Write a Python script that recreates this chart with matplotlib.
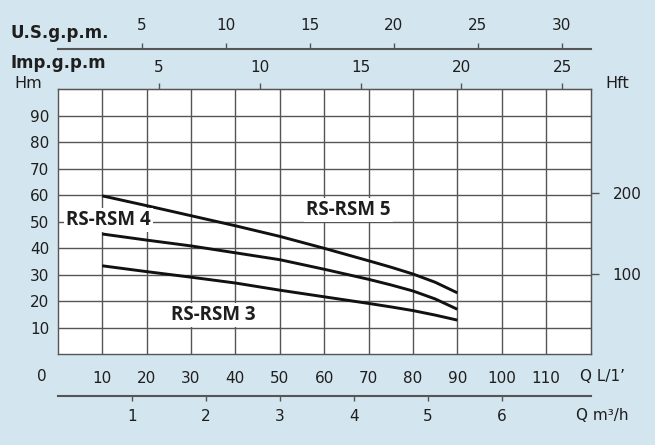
import matplotlib
matplotlib.use("Agg")
import matplotlib.pyplot as plt

# flow points (L/min) and head (m)
q_lmin = [10, 20, 30, 40, 50, 60, 70, 75, 80, 85, 90]
h_rsm5 = [59.8, 56.1, 52.3, 48.5, 44.5, 40.0, 35.3, 32.9, 30.3, 27.2, 23.2]
h_rsm4 = [45.4, 43.1, 40.9, 38.3, 35.7, 32.1, 28.3, 26.2, 23.9, 20.9, 17.0]
h_rsm3 = [33.4, 31.2, 29.1, 26.9, 24.2, 21.7, 19.2, 17.9, 16.5, 14.8, 12.9]

labels = ["RS-RSM 5", "RS-RSM 4", "RS-RSM 3"]
label_pos = [(65.5, 54.5), (11.4, 50.7), (35.1, 14.8)]

lmin_ticks = list(range(10, 120, 10))
hm_ticks = list(range(10, 100, 10))
imp_ticks = [5, 10, 15, 20, 25]
us_ticks = [5, 10, 15, 20, 25, 30]
m3h_ticks = [1, 2, 3, 4, 5, 6]
hft_ticks = [100, 200]

BG = "#d3e5ee"
GRID = "#555555"
TXT = "#1e1e1e"
W, H = 655, 445

plt.rcParams["font.family"] = ["DejaVu Sans"]

fig = plt.figure(figsize=(W / 100, H / 100), dpi=100, facecolor=BG)
ax = fig.add_axes([57.8 / W, 1 - 354.3 / H, 532.7 / W, 265.0 / H])
ax.set_facecolor("white")
ax.set_xlim(0, 120)
ax.set_ylim(0, 100)
ax.set_xticks(lmin_ticks)
ax.set_yticks(hm_ticks)
ax.grid(True, color=GRID, lw=1.0)
ax.set_axisbelow(True)
for s in ax.spines.values():
    s.set_color(GRID)
    s.set_linewidth(1.0)
ax.tick_params(axis="x", length=0, labelsize=11, labelcolor=TXT, pad=12)
ax.tick_params(axis="y", length=0, labelsize=11, labelcolor=TXT, pad=6)

for h in (h_rsm5, h_rsm4, h_rsm3):
    ax.plot(q_lmin, h, color="#111111", lw=2.1, solid_capstyle="butt",
            solid_joinstyle="round")

for txt, (x, y) in zip(labels, label_pos):
    ax.text(x, y, txt, ha="center", va="center", fontsize=13.5,
            family="Open Sans", weight="bold", color=TXT,
            bbox=dict(facecolor="white", edgecolor="none", pad=1.5))

# Imp. gallons per minute on the top border
imp = ax.secondary_xaxis("top", functions=(lambda q: q / 4.54609, lambda g: g * 4.54609))
imp.set_xticks(imp_ticks)
imp.tick_params(direction="out", length=4, width=1, color=GRID, labelsize=11,
                labelcolor=TXT, pad=6)
imp.spines["top"].set_color(GRID)

# U.S. gallons per minute above
us = ax.secondary_xaxis(1.152, functions=(lambda q: q / 3.78541, lambda g: g * 3.78541))
us.set_xticks(us_ticks)
us.tick_params(direction="out", length=4.5, width=1, color=GRID, labelsize=11,
               labelcolor=TXT, pad=7)
us.spines["top"].set_color(GRID)
us.spines["top"].set_linewidth(1.5)

# m3/h below
m3h = ax.secondary_xaxis(-0.156, functions=(lambda q: q * 0.06, lambda v: v / 0.06))
m3h.set_xticks(m3h_ticks)
m3h.tick_params(direction="out", length=3.5, width=1, color=GRID, labelsize=11,
                labelcolor=TXT, pad=6)
m3h.spines["bottom"].set_color(GRID)
m3h.spines["bottom"].set_linewidth(1.5)

# feet on the right
hft = ax.secondary_yaxis("right", functions=(lambda m: m / 0.3048, lambda f: f * 0.3048))
hft.set_yticks(hft_ticks)
hft.tick_params(direction="out", length=6, width=1, color=GRID, labelsize=11,
                labelcolor=TXT, pad=10)
hft.spines["right"].set_color(GRID)


def ftext(x, y, s, **kw):
    fig.text(x / W, 1 - y / H, s, color=TXT, va="center", **kw)


ftext(10, 33, "U.S.g.p.m.", ha="left", fontsize=12, weight="bold")
ftext(10, 63, "Imp.g.p.m", ha="left", fontsize=12, weight="bold")
ftext(28, 83, "Hm", ha="center", fontsize=11.5)
ftext(617, 83, "Hft", ha="center", fontsize=11.5)
ftext(42.3, 376.7, "0", ha="center", fontsize=11)
ftext(602, 376.7, "Q L/1’", ha="center", fontsize=11)
ftext(602, 415.7, "Q m³/h", ha="center", fontsize=11)

fig.savefig("out.png", dpi=100, facecolor=BG)
